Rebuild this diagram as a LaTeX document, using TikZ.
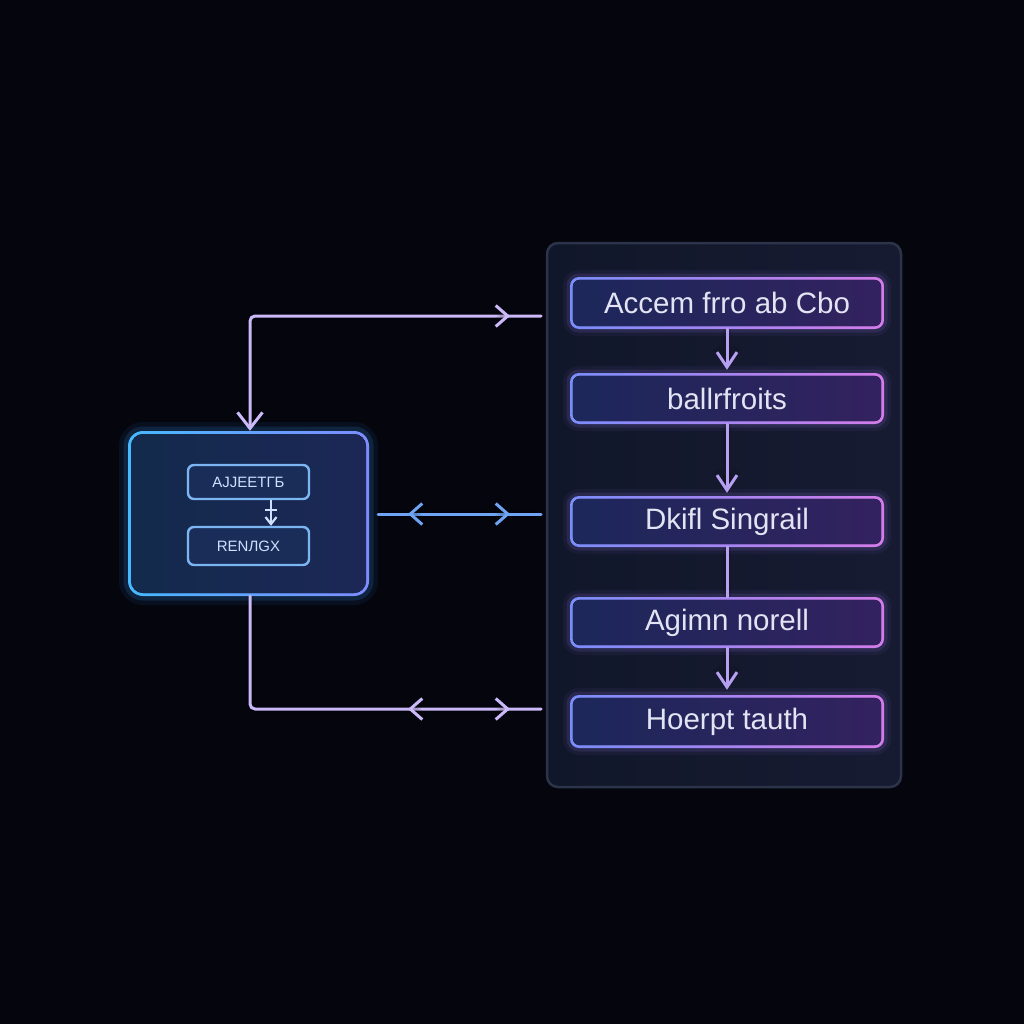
\documentclass[tikz,border=0pt]{standalone}
\usepackage{fontspec}
\setmainfont{Liberation Sans}
\usetikzlibrary{arrows.meta,calc}
\definecolor{bg}{HTML}{05050E}
\definecolor{bordL}{HTML}{7A8DFB}
\definecolor{bordR}{HTML}{D27CEA}
\definecolor{fillL}{HTML}{1C275A}
\definecolor{fillR}{HTML}{33225F}
\definecolor{glowP}{HTML}{9C7CF2}
\definecolor{txt}{HTML}{E2E4F4}
\definecolor{lbL}{HTML}{47B9FF}
\definecolor{lbR}{HTML}{7E8CFF}
\definecolor{lfL}{HTML}{132A4C}
\definecolor{lfR}{HTML}{1C2756}
\definecolor{glowC}{HTML}{3AA4FF}
\definecolor{ibord}{HTML}{7CB6F2}
\definecolor{ifill}{HTML}{1A2D58}
\definecolor{itxt}{HTML}{CFE0FF}
\definecolor{panelL}{HTML}{11172A}
\definecolor{panelR}{HTML}{171B32}
\definecolor{panelB}{HTML}{2C3449}
\definecolor{lav}{HTML}{CBB9F8}
\definecolor{vio}{HTML}{B7A0F2}
\definecolor{blu}{HTML}{6FA4F4}
\tikzset{
  rbox/.style={minimum width=314pt, minimum height=51pt, rounded corners=9pt,
    left color=bordL, right color=bordR, inner sep=0pt, text=txt,
    font=\fontsize{29.5}{34}\selectfont,
    preaction={draw=glowP, line width=14pt, opacity=0.06},
    preaction={draw=glowP, line width=7pt, opacity=0.13},
    path picture={\fill[left color=fillL, right color=fillR, rounded corners=7pt]
      ([shift={(2.8pt,-2.8pt)}]path picture bounding box.north west) rectangle
      ([shift={(-2.8pt,2.8pt)}]path picture bounding box.south east);}},
  lbox/.style={minimum width=241pt, minimum height=165pt, rounded corners=15pt,
    left color=lbL, right color=lbR, inner sep=0pt,
    preaction={draw=glowC, line width=18pt, opacity=0.07},
    preaction={draw=glowC, line width=9pt, opacity=0.14},
    path picture={\fill[left color=lfL, right color=lfR, rounded corners=12pt]
      ([shift={(3pt,-3pt)}]path picture bounding box.north west) rectangle
      ([shift={(-3pt,3pt)}]path picture bounding box.south east);}},
  ibox/.style={minimum width=121pt, rounded corners=6pt, draw=ibord, line width=2.4pt,
    fill=ifill, inner sep=0pt, text=itxt, font=\fontsize{15}{18}\selectfont},
  panelbox/.style={minimum width=354pt, minimum height=544pt, rounded corners=11pt,
    left color=panelL, right color=panelR, draw=panelB, line width=2.5pt},
  conn/.style={line width=3pt, line cap=round, line join=round,
    preaction={draw, line width=8pt, opacity=0.10}},
  barb/.style={-{Straight Barb[length=12pt,width=21pt]}},
  vbarb/.style={-{Straight Barb[length=15pt,width=20pt]}},
  bigbarb/.style={-{Straight Barb[length=16pt,width=25pt]}}
}
\begin{document}
\begin{tikzpicture}[x=1pt,y=-1pt]
\fill[bg] (0,0) rectangle (1024,1024);
\useasboundingbox (0,0) rectangle (1024,1024);

% right panel
\node[panelbox] (panel) at (724,515) {};
\node[rbox, minimum height=52pt] (b1) at (727,303) {Accem frro ab Cbo};
\node[rbox] (b2) at (727,398.5) {ballrfroits};
\node[rbox] (b3) at (727,521.5) {Dkifl Singrail};
\node[rbox] (b4) at (727,622.5) {Agimn norell};
\node[rbox, minimum height=53pt] (b5) at (727,721.5) {Hoerpt tauth};

\draw[conn, vio, vbarb, shorten >=3pt] (b1.south) -- (b2.north);
\draw[conn, vio, vbarb, shorten >=3pt] (b2.south) -- (b3.north);
\draw[conn, vio] (b3.south) -- (b4.north);
\draw[conn, vio, vbarb, shorten >=5pt] (b4.south) -- (b5.north);

% left box
\node[lbox] (L) at (248.5,513.5) {};
\node[ibox, minimum height=34pt] (i1) at (248.5,482) {AJJEETГБ};
\node[ibox, minimum height=38pt] (i2) at (248.5,546) {RENЛGX};
\coordinate (t0) at ($(i1.south)+(22.5,0)$);
\coordinate (t1) at ($(i1.south)+(22.5,9)$);
\coordinate (t2) at ($(i2.north)+(22.5,0)$);
\draw[line width=2.2pt, itxt] (t0) -- (t1);
\draw[line width=2.2pt, itxt, {Bar[width=12pt]}-{Straight Barb[length=7pt,width=11pt]}] (t1) -- (t2);

% top connector
\coordinate (ptop) at (541,316);
\coordinate (ctop) at (250,316);
\coordinate (atop) at (510,316);
\draw[conn, lav, bigbarb, rounded corners=5pt] (ptop) -- (ctop) -- (L.north -| ctop);
\draw[conn, lav, barb] ($(atop)+(-2,0)$) -- (atop);

% middle connector
\coordinate (m1) at (378,514);
\coordinate (m2) at (541,514);
\coordinate (ml) at (408,514);
\coordinate (mr) at (510,514);
\draw[conn, blu] (m1) -- (m2);
\draw[conn, blu, barb] ($(ml)+(2,0)$) -- (ml);
\draw[conn, blu, barb] ($(mr)+(-2,0)$) -- (mr);

% bottom connector
\coordinate (cbot) at (250,709);
\coordinate (pbot) at (541,709);
\coordinate (bl) at (408,709);
\coordinate (br) at (510,709);
\draw[conn, lav, rounded corners=5pt] (L.south -| cbot) -- (cbot) -- (pbot);
\draw[conn, lav, barb] ($(bl)+(2,0)$) -- (bl);
\draw[conn, lav, barb] ($(br)+(-2,0)$) -- (br);
\end{tikzpicture}
\end{document}
